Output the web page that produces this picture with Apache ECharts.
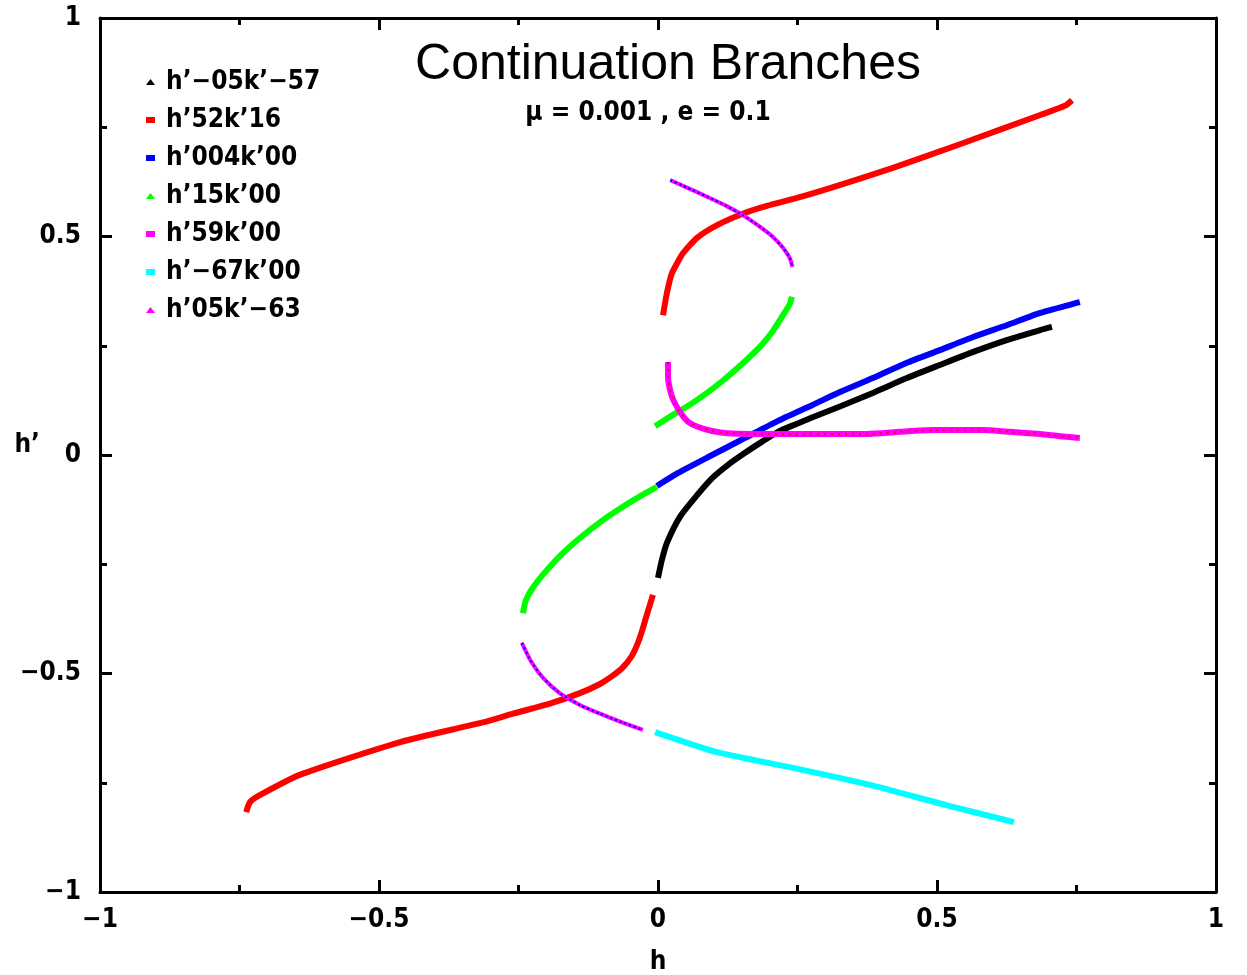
<!DOCTYPE html>
<html>
<head>
<meta charset="utf-8">
<script src="https://cdn.jsdelivr.net/npm/echarts@6/dist/echarts.min.js"></script>
<style>html,body{margin:0;padding:0;background:#fff}#c{width:1247px;height:975px}</style>
</head>
<body>
<div id="c"></div>
<script>
// ---- data (h, h') ----
const axisMin = -1, axisMax = 1, tickStep = 0.5;
const titleText = 'Continuation Branches';
const subtitleText = 'μ = 0.001 , e = 0.1';
const seriesNames = ["h’−05k’−57", "h’52k’16", "h’004k’00", "h’15k’00", "h’59k’00", "h’−67k’00", "h’05k’−63"];

const black_05_57 = [[0.000,-0.281],[0.007,-0.240],[0.016,-0.201],[0.039,-0.142],[0.066,-0.098],[0.097,-0.053],[0.125,-0.023],[0.156,0.005],[0.186,0.030],[0.215,0.053],[0.246,0.070],[0.276,0.086],[0.326,0.111],[0.385,0.142],[0.446,0.176],[0.505,0.206],[0.565,0.236],[0.625,0.263],[0.685,0.286],[0.706,0.293]];
const red_52_16_upper = [[0.009,0.320],[0.016,0.371],[0.025,0.416],[0.045,0.462],[0.070,0.497],[0.106,0.526],[0.152,0.552],[0.195,0.570],[0.254,0.590],[0.314,0.613],[0.421,0.657],[0.541,0.711],[0.685,0.778],[0.729,0.799],[0.742,0.812]];
const red_52_16_lower = [[-0.738,-0.817],[-0.731,-0.794],[-0.713,-0.778],[-0.642,-0.732],[-0.462,-0.657],[-0.314,-0.612],[-0.260,-0.592],[-0.194,-0.569],[-0.140,-0.545],[-0.104,-0.524],[-0.081,-0.505],[-0.063,-0.486],[-0.047,-0.460],[-0.036,-0.430],[-0.027,-0.396],[-0.018,-0.357],[-0.009,-0.320]];
const blue_004_00 = [[-0.002,-0.071],[0.036,-0.041],[0.097,0.000],[0.156,0.039],[0.215,0.078],[0.276,0.114],[0.326,0.144],[0.385,0.176],[0.446,0.211],[0.505,0.240],[0.565,0.270],[0.625,0.297],[0.685,0.325],[0.744,0.346],[0.756,0.350]];
const green_15_00_upper = [[-0.005,0.066],[0.022,0.088],[0.052,0.111],[0.081,0.136],[0.116,0.170],[0.152,0.210],[0.183,0.248],[0.206,0.284],[0.224,0.320],[0.236,0.345],[0.240,0.362]];
const green_15_00_lower = [[-0.002,-0.073],[-0.030,-0.093],[-0.065,-0.120],[-0.100,-0.150],[-0.140,-0.190],[-0.175,-0.230],[-0.205,-0.272],[-0.225,-0.305],[-0.237,-0.333],[-0.242,-0.362]];
const magenta_59_00_upper = [[0.022,0.629],[0.052,0.612],[0.088,0.591],[0.124,0.569],[0.152,0.549],[0.183,0.522],[0.206,0.499],[0.224,0.474],[0.236,0.451],[0.241,0.430]];
const magenta_59_00_lower = [[-0.244,-0.430],[-0.229,-0.469],[-0.206,-0.510],[-0.176,-0.545],[-0.140,-0.572],[-0.104,-0.592],[-0.068,-0.610],[-0.027,-0.629]];
const cyan_67_00 = [[-0.005,-0.634],[0.106,-0.680],[0.242,-0.716],[0.380,-0.755],[0.516,-0.801],[0.638,-0.840]];
const magenta_05_63 = [[0.018,0.213],[0.018,0.178],[0.023,0.142],[0.030,0.119],[0.043,0.092],[0.054,0.076],[0.072,0.064],[0.097,0.055],[0.125,0.050],[0.224,0.048],[0.375,0.048],[0.434,0.053],[0.493,0.057],[0.582,0.057],[0.631,0.053],[0.685,0.048],[0.720,0.043],[0.756,0.039]];

const LBL_FONT = '"DejaVu Sans Condensed", "DejaVu Sans", sans-serif';
const fmt = v => (v < 0 ? '−' + String(-v) : String(v));

function line(name, data, color, width, extra) {
  return Object.assign({
    type: 'line', name: name, data: data, showSymbol: false, smooth: 0.2,
    xAxisIndex: 0, yAxisIndex: 0,
    lineStyle: { color: color, width: width, cap: 'butt', join: 'round' },
    itemStyle: { color: color }, animation: false, silent: true
  }, extra || {});
}

const chart = echarts.init(document.getElementById('c'), null, { renderer: 'canvas' });

const baseAxis = {
  type: 'value', min: axisMin, max: axisMax, interval: tickStep,
  axisLine: { show: true, onZero: false, lineStyle: { color: '#000', width: 3 } },
  axisTick: { show: true, inside: true, length: 12, lineStyle: { color: '#000', width: 3 } },
  minorTick: { show: true, splitNumber: 2, length: 7, lineStyle: { color: '#000', width: 3 } },
  splitLine: { show: false }
};

chart.setOption({
  backgroundColor: '#fff',
  animation: false,
  title: [
    { text: titleText, left: 663, top: 35, textAlign: 'center',
      textStyle: { fontFamily: '"Liberation Sans", Arial, sans-serif', fontSize: 50, fontWeight: 'normal', color: '#000' } },
    { text: subtitleText, left: 643, top: 95, textAlign: 'center',
      textStyle: { fontFamily: LBL_FONT, fontSize: 26, fontWeight: 'bold', color: '#000' } }
  ],
  legend: {
    orient: 'vertical', left: 141, top: 64, itemWidth: 9, itemHeight: 6, itemGap: 12,
    data: [
      { name: seriesNames[0], icon: 'triangle' },
      { name: seriesNames[1], icon: 'rect' },
      { name: seriesNames[2], icon: 'rect' },
      { name: seriesNames[3], icon: 'triangle' },
      { name: seriesNames[4], icon: 'rect' },
      { name: seriesNames[5], icon: 'rect' },
      { name: seriesNames[6], icon: 'triangle' }
    ],
    textStyle: { fontFamily: LBL_FONT, fontSize: 26, fontWeight: 'bold', color: '#000', lineHeight: 26, padding: [0, 0, 0, 6] },
    selectedMode: false
  },
  grid: { left: 100, right: 31, top: 18, bottom: 83, containLabel: false, outerBoundsMode: 'none' },
  xAxis: [
    Object.assign({}, baseAxis, {
      position: 'bottom', name: 'h', nameLocation: 'middle', nameGap: 57, nameMoveOverlap: false,
      nameTextStyle: { fontFamily: LBL_FONT, fontSize: 26, fontWeight: 'bold', color: '#000' },
      axisLabel: { show: true, margin: 15, formatter: fmt, fontFamily: LBL_FONT, fontSize: 26, fontWeight: 'bold', color: '#000' }
    }),
    Object.assign({}, baseAxis, { position: 'top', axisLabel: { show: false } })
  ],
  yAxis: [
    Object.assign({}, baseAxis, {
      position: 'left', name: "h’", nameLocation: 'middle', nameGap: 60, nameRotate: 0, nameMoveOverlap: false,
      nameTextStyle: { fontFamily: LBL_FONT, fontSize: 26, fontWeight: 'bold', color: '#000', verticalAlign: 'bottom', lineHeight: 20, align: 'right' },
      axisLabel: { show: true, margin: 19, formatter: fmt, fontFamily: LBL_FONT, fontSize: 26, fontWeight: 'bold', color: '#000' }
    }),
    Object.assign({}, baseAxis, { position: 'right', axisLabel: { show: false } })
  ],
  series: [
    line(seriesNames[0], black_05_57, '#000000', 6),
    line(seriesNames[1], red_52_16_upper, '#ff0000', 6),
    line(seriesNames[1], red_52_16_lower, '#ff0000', 6),
    line(seriesNames[2], blue_004_00, '#0000ff', 6),
    line(seriesNames[3], green_15_00_upper, '#00ff00', 6),
    line(seriesNames[3], green_15_00_lower, '#00ff00', 6),
    line(seriesNames[4], magenta_59_00_upper, '#ff00ff', 4),
    line(seriesNames[4], magenta_59_00_lower, '#ff00ff', 4),
    line('overlay-blue-upper', magenta_59_00_upper, '#0000ff', 2, { lineStyle: { color: '#0000ff', width: 2, type: [2, 3] } }),
    line('overlay-blue-lower', magenta_59_00_lower, '#0000ff', 2, { lineStyle: { color: '#0000ff', width: 2, type: [2, 3] } }),
    line(seriesNames[5], cyan_67_00, '#00ffff', 6),
    line(seriesNames[6], magenta_05_63, '#ff00ff', 6),
    line('overlay-red', magenta_05_63, '#ff0000', 2, { lineStyle: { color: '#ff0000', width: 2, type: [2, 5] } })
  ]
});
</script>
</body>
</html>
